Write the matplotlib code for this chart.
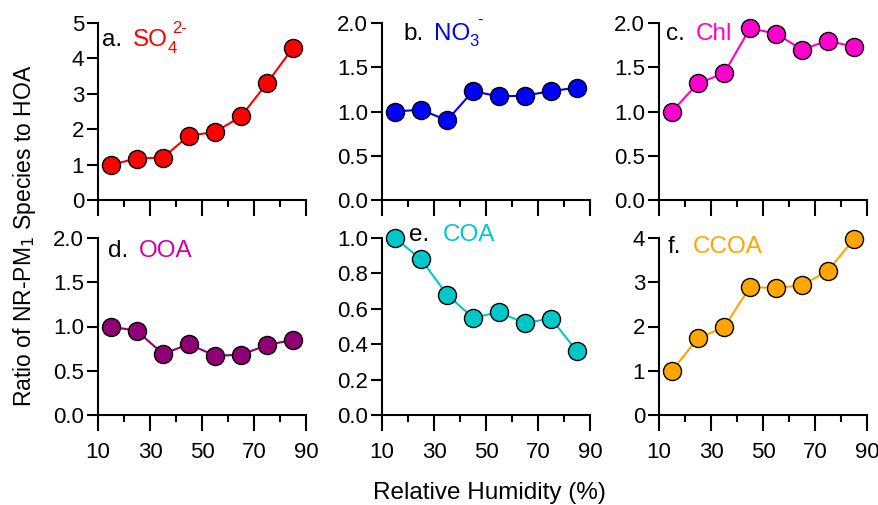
import matplotlib
matplotlib.use("Agg")
import matplotlib.pyplot as plt
from matplotlib.ticker import FixedLocator

plt.rcParams['font.family'] = ['Liberation Sans', 'DejaVu Sans']

rh = [15, 25, 35, 45, 55, 65, 75, 85]
so4 = [1.0, 1.17, 1.2, 1.82, 1.92, 2.36, 3.3, 4.3]
no3 = [1.0, 1.02, 0.9, 1.23, 1.17, 1.18, 1.23, 1.27]
chl = [1.0, 1.32, 1.43, 1.94, 1.88, 1.70, 1.80, 1.73]
ooa = [1.0, 0.95, 0.69, 0.80, 0.67, 0.68, 0.79, 0.85]
coa = [1.0, 0.88, 0.68, 0.55, 0.58, 0.52, 0.545, 0.36]
ccoa = [1.0, 1.74, 1.98, 2.89, 2.87, 2.93, 3.26, 3.98]
x_major = [10, 30, 50, 70, 90]
x_minor = [20, 40, 60, 80]

panels = [
    ("a.", "SO", so4, "#ff0000", "#ff0000", 5, 1, "{:.0f}"),
    ("b.", "NO", no3, "#0000ff", "#0000ff", 2.0, 0.5, "{:.1f}"),
    ("c.", "Chl", chl, "#ff00cc", "#ff00cc", 2.0, 0.5, "{:.1f}"),
    ("d.", "OOA", ooa, "#8e0074", "#cc00aa", 2.0, 0.5, "{:.1f}"),
    ("e.", "COA", coa, "#00c8c8", "#00c8c8", 1.0, 0.2, "{:.1f}"),
    ("f.", "CCOA", ccoa, "#ffa500", "#ffa500", 4, 1, "{:.0f}"),
]
# label positions in figure pixels: (x_letter, x_name, baseline_y)
label_pos = [(102, 133, 46), (403, 434, 40), (666, 696, 40),
             (108, 139, 257), (409, 443, 241), (668, 693, 253)]
# sub/superscripts: (panel index, text, x offset after name, baseline_y)
scripts = [(0, "4", 0, 53), (0, "2-", 4, 33),
           (1, "3", -1, 46), (1, "-", 7, 25)]

W, H = 879, 505
fig = plt.figure(figsize=(W / 100, H / 100), dpi=100)

lefts = [98, 382, 659]
tops = [23, 238]
aw, ah = 208, 177

name_texts = []
for i, (lab, name, vals, col, tcol, ymax, ystep, fmt) in enumerate(panels):
    r, c = divmod(i, 3)
    l = lefts[c]
    t = tops[r]
    ax = fig.add_axes([l / W, 1 - (t + ah) / H, aw / W, ah / H])
    ax.plot(rh, vals, '-', color=col, lw=1.5, marker='o', markersize=13,
            markerfacecolor=col, markeredgecolor='black', markeredgewidth=1.0,
            clip_on=False, zorder=3)
    ax.set_xlim(10, 90)
    ax.set_ylim(0, ymax)
    ax.xaxis.set_major_locator(FixedLocator(x_major))
    ax.xaxis.set_minor_locator(FixedLocator(x_minor))
    ax.spines['top'].set_visible(False)
    ax.spines['right'].set_visible(False)
    for s in ['left', 'bottom']:
        ax.spines[s].set_linewidth(1.5)
    ax.tick_params(axis='x', which='major', length=11.5, width=1.5, direction='out',
                   labelsize=16, pad=8)
    ax.tick_params(axis='x', which='minor', length=5, width=1.5, direction='out')
    ax.tick_params(axis='y', which='major', length=8, width=1.5, direction='out',
                   labelsize=16, pad=2)
    n = int(round(ymax / ystep)) + 1
    ax.set_yticks([k * ystep for k in range(n)])
    ax.set_yticklabels([fmt.format(k * ystep) for k in range(n)])
    if r == 0:
        ax.tick_params(axis='x', labelbottom=False)
    xl, xn, yb = label_pos[i]
    fig.text(xl / W, 1 - yb / H, lab, fontsize=17.5, color='black',
             va='baseline', ha='left', zorder=5)
    tn = fig.text(xn / W, 1 - yb / H, name, fontsize=17.5, color=tcol,
                  va='baseline', ha='left', zorder=5)
    name_texts.append(tn)

fig.canvas.draw()
renderer = fig.canvas.get_renderer()
for (pi, s, dx, ys) in scripts:
    x1 = name_texts[pi].get_window_extent(renderer).x1
    fig.text((x1 + dx) / W, 1 - ys / H, s, fontsize=12, color=panels[pi][4],
             va='baseline', ha='left', zorder=5)

fig.text(25 / W, 1 - 236 / H, r"Ratio of NR-PM$_1$ Species to HOA", rotation=90,
         fontsize=16.5, va='center', ha='center')
fig.text(489 / W, 1 - 493 / H, "Relative Humidity (%)", fontsize=17.5,
         va='center', ha='center')

fig.savefig("out.png", dpi=100)
